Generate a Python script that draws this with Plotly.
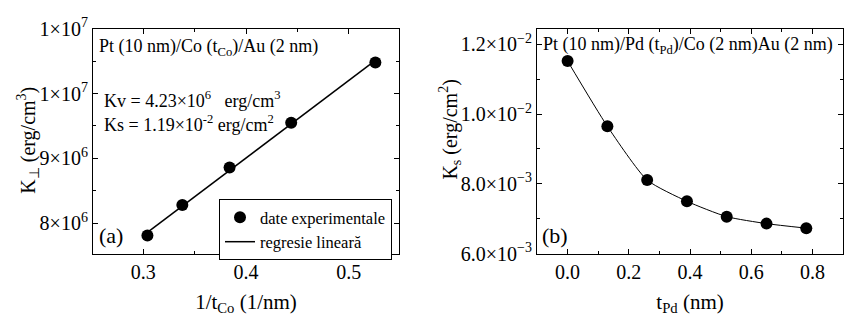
import numpy as np
import plotly.graph_objects as go

# Panel (a) data
inv_t_co = [0.304, 0.338, 0.384, 0.444, 0.526]
k_perp = [7.81e6, 8.28e6, 8.86e6, 9.55e6, 1.048e7]
a_yticks = [8e6, 9e6, 1e7, 1.1e7]
a_yticktext = ["8×10<sup>6</sup>", "9×10<sup>6</sup>", "1×10<sup>7</sup>", "1×10<sup>7</sup>"]
a_yminor = [8.5e6, 9.5e6, 1.05e7]
a_xticks = [0.3, 0.4, 0.5]
a_xminor = [0.35, 0.45]

# Panel (b) data
t_pd = [0.0, 0.13, 0.26, 0.39, 0.52, 0.65, 0.78]
k_s = [1.152e-2, 9.65e-3, 8.11e-3, 7.50e-3, 7.06e-3, 6.86e-3, 6.73e-3]
b_yticks = [6e-3, 8e-3, 1e-2, 1.2e-2]
b_yticktext = ["6.0×10<sup>−3</sup>", "8.0×10<sup>−3</sup>", "1.0×10<sup>−2</sup>", "1.2×10<sup>−2</sup>"]
b_yminor = [7e-3, 9e-3, 1.1e-2]
b_xticks = [0.0, 0.2, 0.4, 0.6, 0.8]
b_xminor = [-0.1, 0.1, 0.3, 0.5, 0.7]

slope, intercept = np.polyfit(inv_t_co, k_perp, 1)
fit_x = [min(inv_t_co), max(inv_t_co)]
fit_y = [slope * x + intercept for x in fit_x]

FONT = "'Liberation Serif', 'Times New Roman', Times, serif"
W, H = 846, 322

fig = go.Figure()
fig.add_trace(go.Scatter(x=fit_x, y=fit_y, mode="lines", line=dict(color="black", width=1.5),
                         name="regresie lineară", xaxis="x", yaxis="y"))
fig.add_trace(go.Scatter(x=inv_t_co, y=k_perp, mode="markers",
                         marker=dict(color="black", size=12), name="date experimentale",
                         xaxis="x", yaxis="y"))
fig.add_trace(go.Scatter(x=t_pd, y=k_s, mode="lines+markers", line=dict(color="black", width=1, shape="spline", smoothing=0.6),
                         marker=dict(color="black", size=12), showlegend=False,
                         xaxis="x2", yaxis="y2"))

def axis_common(minor_vals):
    return dict(showline=True, linecolor="black", linewidth=1.2, mirror="ticks",
                ticks="inside", ticklen=5, tickcolor="black", tickwidth=1,
                showgrid=False, zeroline=False,
                tickfont=dict(family=FONT, size=20, color="black"),
                minor=dict(tickvals=minor_vals, ticks="inside", ticklen=3, tickcolor="black", showgrid=False))

ydom = [1 - 260 / H, 1 - 17 / H]
fig.update_layout(
    width=W, height=H, margin=dict(l=0, r=0, t=0, b=0),
    plot_bgcolor="white", paper_bgcolor="white",
    font=dict(family=FONT, color="black"),
    xaxis=dict(domain=[93 / W, 399 / W], range=[0.251, 0.549], tickvals=a_xticks,
               ticktext=[f"{v:.1f}" for v in a_xticks],
               title=dict(text="1/t<sub>Co</sub> (1/nm)", font=dict(family=FONT, size=21), standoff=12),
               anchor="y", **axis_common(a_xminor)),
    yaxis=dict(domain=ydom, range=[7.53e6, 1.1e7], tickvals=a_yticks, ticktext=a_yticktext,
               anchor="x", **axis_common(a_yminor)),
    xaxis2=dict(domain=[537 / W, 843 / W], range=[-0.1, 0.9], tickvals=b_xticks,
                ticktext=[f"{v:.1f}" for v in b_xticks],
                title=dict(text="t<sub>Pd</sub> (nm)", font=dict(family=FONT, size=21), standoff=12),
                anchor="y2", **axis_common(b_xminor)),
    yaxis2=dict(domain=ydom, range=[6e-3, 1.2447e-2], tickvals=b_yticks, ticktext=b_yticktext,
                anchor="x2", **axis_common(b_yminor)),
    legend=dict(x=219 / W, y=1 - 201 / H, xanchor="left", yanchor="top",
                bordercolor="black", borderwidth=1, bgcolor="white",
                font=dict(family=FONT, size=16.5), tracegroupgap=0, itemwidth=30,
                traceorder="reversed"),
)

def ann(text, x, y, size=18, angle=0, xanchor="left"):
    fig.add_annotation(text=text, x=x, y=y, xref="paper", yref="paper", showarrow=False,
                       xanchor=xanchor, yanchor="middle", textangle=angle,
                       font=dict(family=FONT, size=size, color="black"))

ann("Pt (10 nm)/Co (t<sub>Co</sub>)/Au (2 nm)", 97 / W, 1 - 37 / H)
ann("Kv = 4.23×10<sup>6</sup>   erg/cm<sup>3</sup>", 102 / W, 1 - 94 / H)
ann("Ks = 1.19×10<sup>-2</sup> erg/cm<sup>2</sup>", 102 / W, 1 - 119 / H)
ann("(a)", 97 / W, 1 - 240 / H, size=22)
ann("Pt (10 nm)/Pd (t<sub>Pd</sub>)/Co (2 nm)Au (2 nm)", 541 / W, 1 - 35 / H)
ann("(b)", 540 / W, 1 - 240 / H, size=22)
ann("K<sub>⊥</sub> (erg/cm<sup>3</sup>)", 28 / W, 1 - 138 / H, size=20, angle=-90, xanchor="center")
ann("K<sub>s</sub> (erg/cm<sup>2</sup>)", 450 / W, 1 - 126 / H, size=20, angle=-90, xanchor="center")

fig.write_html("out.html")
